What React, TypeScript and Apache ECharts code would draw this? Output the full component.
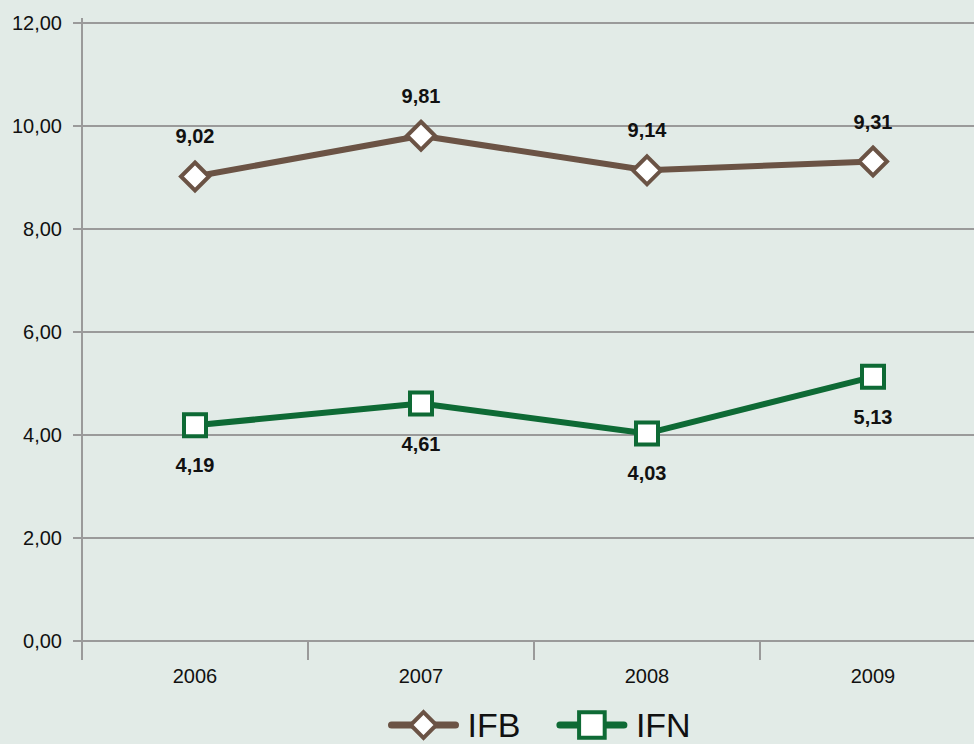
import React, { useEffect, useRef } from "react";
import * as echarts from "echarts";

const years = ["2006", "2007", "2008", "2009"];
const ifb = [9.02, 9.81, 9.14, 9.31];
const ifn = [4.19, 4.61, 4.03, 5.13];
const seriesNames = ["IFB", "IFN"];

const fmt = (v: number) => v.toFixed(2).replace(".", ",");

export default function App() {
  const ref = useRef<HTMLDivElement>(null);
  useEffect(() => {
    document.body.style.margin = "0";
    const chart = echarts.init(ref.current!, null, { renderer: "svg" });
    const font = "Liberation Sans, Arial, Helvetica, sans-serif";
    const brown = "#6b5345";
    const green = "#0e6a35";
    chart.setOption({
      animation: false,
      backgroundColor: "#e2ebe7",
      textStyle: { fontFamily: font },
      grid: {
        left: 82,
        top: 23,
        width: 904,
        height: 618,
        containLabel: false,
        outerBoundsMode: "none",
      },
      legend: {
        top: 703,
        left: 383,
        padding: 5,
        itemWidth: 64,
        itemHeight: 32,
        itemGap: 36,
        lineStyle: { width: 7, cap: "round" },
        itemStyle: { borderWidth: 4 },
        textStyle: { fontSize: 34, color: "#111", fontFamily: font, padding: [0, 0, 0, 7] },
        data: seriesNames,
      },
      graphic: [
        {
          type: "line",
          shape: { x1: 82, y1: 18, x2: 82, y2: 23 },
          style: { stroke: "#9a9a9a", lineWidth: 2 },
        },
      ],
      xAxis: {
        type: "category",
        data: years,
        boundaryGap: true,
        axisLine: { lineStyle: { color: "#9a9a9a", width: 2 } },
        axisTick: { show: true, length: 19, lineStyle: { color: "#9a9a9a", width: 2 } },
        axisLabel: { color: "#111", fontSize: 20, margin: 25, fontFamily: font },
      },
      yAxis: {
        type: "value",
        min: 0,
        max: 12,
        interval: 2,
        axisLine: { show: true, lineStyle: { color: "#9a9a9a", width: 2 } },
        axisTick: { show: true, length: 9, lineStyle: { color: "#9a9a9a", width: 2 } },
        axisLabel: {
          color: "#111",
          fontSize: 20,
          margin: 20,
          fontFamily: font,
          formatter: (v: number) => fmt(v),
        },
        splitLine: { show: true, lineStyle: { color: "#9a9a9a", width: 2 } },
      },
      series: [
        {
          name: seriesNames[0],
          type: "line",
          data: ifb,
          symbol: "diamond",
          symbolSize: 28,
          lineStyle: { color: brown, width: 6 },
          itemStyle: { color: "#ffffff", borderColor: brown, borderWidth: 4 },
          label: {
            show: true,
            position: "top",
            distance: 14,
            fontSize: 20,
            fontWeight: "bold",
            color: "#111",
            fontFamily: font,
            formatter: (p: any) => fmt(p.value),
          },
        },
        {
          name: seriesNames[1],
          type: "line",
          data: ifn,
          symbol: "rect",
          symbolSize: 22,
          lineStyle: { color: green, width: 6 },
          itemStyle: { color: "#ffffff", borderColor: green, borderWidth: 4 },
          label: {
            show: true,
            position: "bottom",
            distance: 17,
            fontSize: 20,
            fontWeight: "bold",
            color: "#111",
            fontFamily: font,
            formatter: (p: any) => fmt(p.value),
          },
        },
      ],
    });
    return () => chart.dispose();
  }, []);
  return <div ref={ref} style={{ width: 974, height: 744 }} />;
}
